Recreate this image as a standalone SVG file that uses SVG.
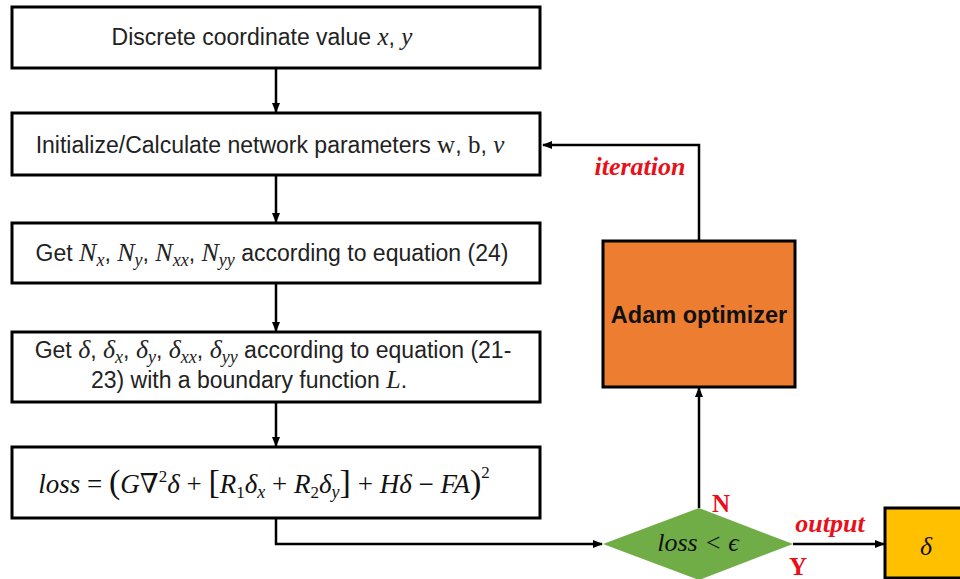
<svg xmlns="http://www.w3.org/2000/svg" width="960" height="579" viewBox="0 0 960 579">
<defs>
<marker id="arr" markerWidth="10" markerHeight="10" refX="9" refY="5" orient="auto" markerUnits="userSpaceOnUse">
<path d="M0,1 L10,5 L0,9 Z" fill="#000"/>
</marker>
<style>
.box{fill:#fff;stroke:#000;stroke-width:3}
.t{font-family:"Liberation Sans","DejaVu Sans",sans-serif;font-size:23px;fill:#222}
.m{font-family:"Liberation Serif","DejaVu Serif",serif;font-style:italic}
.up{font-family:"Liberation Serif","DejaVu Serif",serif;font-style:normal}
.lab{font-family:"Liberation Serif","Times New Roman",serif;font-weight:bold;fill:#e8101a}
.conn{fill:none;stroke:#000;stroke-width:2.5}
</style>
</defs>
<g id="connectors">
<path class="conn" d="M276 68 V112" marker-end="url(#arr)"/>
<path class="conn" d="M276 175 V222" marker-end="url(#arr)"/>
<path class="conn" d="M276 283 V331" marker-end="url(#arr)"/>
<path class="conn" d="M276 402 V446" marker-end="url(#arr)"/>
<path class="conn" d="M276 518 V544 H602" marker-end="url(#arr)"/>
<path class="conn" d="M699 508 V388" marker-end="url(#arr)"/>
<path class="conn" d="M699 241 V145 H543" marker-end="url(#arr)"/>
<path class="conn" d="M793 544 H884" marker-end="url(#arr)"/>
<text class="lab" x="640" y="175" font-size="26" font-style="italic" text-anchor="middle">iteration</text>
<text class="lab" x="830" y="532" font-size="26" font-style="italic" text-anchor="middle">output</text>
<text class="lab" x="721" y="512" font-size="25" text-anchor="middle">N</text>
<text class="lab" x="798" y="575" font-size="25" text-anchor="middle">Y</text>
</g>
<g id="n1">
<rect class="box" x="12" y="7" width="528" height="61"/>
<text class="t" x="262" y="45" text-anchor="middle">Discrete coordinate value <tspan class="m" font-size="25">x</tspan>, <tspan class="m" font-size="25">y</tspan></text>
</g>
<g id="n2">
<rect class="box" x="12" y="113" width="528" height="62"/>
<text class="t" x="270" y="153" text-anchor="middle">Initialize/Calculate network parameters <tspan class="up" font-size="25">w</tspan>, <tspan class="up" font-size="25">b</tspan>, <tspan class="m" font-size="25">v</tspan></text>
</g>
<g id="n3">
<rect class="box" x="12" y="223" width="528" height="60"/>
<text class="t" x="272" y="261" text-anchor="middle" font-size="23.5">Get <tspan class="m" font-size="26">N</tspan><tspan class="m" font-size="18" dy="5">x</tspan><tspan dy="-5">, </tspan><tspan class="m" font-size="26">N</tspan><tspan class="m" font-size="18" dy="5">y</tspan><tspan dy="-5">, </tspan><tspan class="m" font-size="26">N</tspan><tspan class="m" font-size="18" dy="5">xx</tspan><tspan dy="-5">, </tspan><tspan class="m" font-size="26">N</tspan><tspan class="m" font-size="18" dy="5">yy</tspan><tspan dy="-5"> according to equation (24)</tspan></text>
</g>
<g id="n4">
<rect class="box" x="12" y="332" width="528" height="70"/>
<text class="t" x="273" y="358" text-anchor="middle" font-size="23.5">Get <tspan class="m" font-size="26">δ</tspan>, <tspan class="m" font-size="26">δ</tspan><tspan class="m" font-size="18" dy="5">x</tspan><tspan dy="-5">, </tspan><tspan class="m" font-size="26">δ</tspan><tspan class="m" font-size="18" dy="5">y</tspan><tspan dy="-5">, </tspan><tspan class="m" font-size="26">δ</tspan><tspan class="m" font-size="18" dy="5">xx</tspan><tspan dy="-5">, </tspan><tspan class="m" font-size="26">δ</tspan><tspan class="m" font-size="18" dy="5">yy</tspan><tspan dy="-5"> according to equation (21-</tspan></text>
<text class="t" x="249" y="388" text-anchor="middle" font-size="23.5">23) with a boundary function <tspan class="m" font-size="26">L</tspan>.</text>
</g>
<g id="n5">
<rect class="box" x="12" y="447" width="528" height="71"/>
<text class="up" x="264" y="493" text-anchor="middle" font-size="27" fill="#111"><tspan class="m">loss</tspan> = <tspan font-size="34">(</tspan><tspan class="m">G</tspan>∇<tspan font-size="17" dy="-11">2</tspan><tspan class="m" dy="11">δ</tspan> + <tspan font-size="34">[</tspan><tspan class="m">R</tspan><tspan font-size="17" dy="5">1</tspan><tspan class="m" dy="-5">δ</tspan><tspan class="m" font-size="18" dy="5">x</tspan><tspan dy="-5"> + </tspan><tspan class="m">R</tspan><tspan font-size="17" dy="5">2</tspan><tspan class="m" dy="-5">δ</tspan><tspan class="m" font-size="18" dy="5">y</tspan><tspan font-size="34" dy="-5">]</tspan> + <tspan class="m">Hδ</tspan> − <tspan class="m">FA</tspan><tspan font-size="34">)</tspan><tspan font-size="17" dy="-15">2</tspan></text>
</g>
<g id="adam">
<rect x="603" y="241" width="192" height="146" fill="#ED7D31" stroke="#000" stroke-width="3"/>
<text x="699" y="323" text-anchor="middle" font-family="'Liberation Sans','DejaVu Sans',sans-serif" font-weight="bold" font-size="23.5" fill="#111">Adam optimizer</text>
</g>
<g id="decision">
<polygon points="603,544 699,508 793,544 699,580" fill="#70AD47"/>
<text class="m" x="698" y="551" text-anchor="middle" font-size="26" fill="#111">loss &lt; ϵ</text>
</g>
<g id="result">
<rect x="885" y="508" width="80" height="70" fill="#FFC000" stroke="#000" stroke-width="3"/>
<text class="m" x="926" y="555" text-anchor="middle" font-size="26" fill="#111">δ</text>
</g>
</svg>
